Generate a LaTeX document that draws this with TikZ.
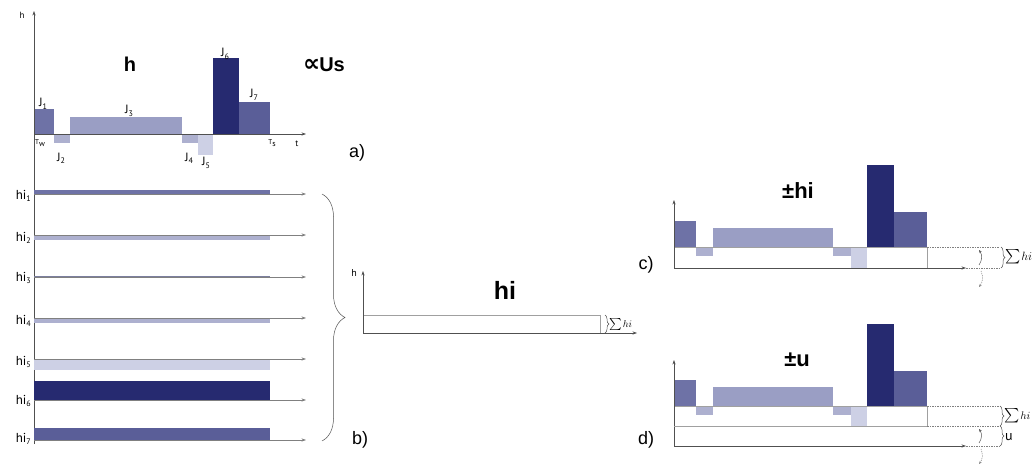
\documentclass[tikz,border=0pt]{standalone}
\usepackage{exscale}
\usepackage{fontspec}
\setmainfont{Liberation Sans}
\newfontfamily\lab{PT Sans}
\newfontfamily\dejavu{DejaVu Sans}
\usetikzlibrary{arrows.meta,decorations.pathreplacing}
\definecolor{cA}{HTML}{6E72A6}
\definecolor{cB}{HTML}{ADB0CF}
\definecolor{cC}{HTML}{9A9EC4}
\definecolor{cD}{HTML}{7C7F9E}
\definecolor{cE}{HTML}{CDD0E5}
\definecolor{cF}{HTML}{262A70}
\definecolor{cG}{HTML}{5A5E98}
\definecolor{axisgray}{HTML}{505050}
\definecolor{guidegray}{HTML}{A0A0A0}
\newcommand\sbs[1]{\raisebox{-0.45ex}{\fontsize{8}{8}\selectfont #1}}
\newcommand\sumhi[2]{{\fontsize{#1}{#1}\selectfont$\textstyle\sum$}\kern1pt{\fontsize{#2}{#2}\selectfont$hi$}}
\begin{document}
\begin{tikzpicture}[x=1pt,y=-1pt,
  axis/.style={draw=axisgray, line width=0.6pt, -{Stealth[length=4.5pt,width=3.2pt]}},
  guide/.style={draw=guidegray, line width=0.6pt},
  dguide/.style={draw=gray, line width=0.5pt, dash pattern=on 1.5pt off 1pt},
  rowline/.style={draw=gray, line width=0.6pt, -{Stealth[length=4.5pt,width=3.2pt]}},
  lbl/.style={font=\lab\fontsize{13}{13}\selectfont, inner sep=0pt},
  jlbl/.style={font=\lab\fontsize{12}{12}\selectfont, inner sep=0pt},
  tiny/.style={font=\lab\fontsize{7}{7}\selectfont, inner sep=0pt},
  big/.style={font=\bfseries\fontsize{22}{22}\selectfont, inner sep=0pt},
  part/.style={font=\fontsize{18}{18}\selectfont, inner sep=0pt},
  sig/.style={inner sep=0pt},
  smallbrace/.style={draw=axisgray, line width=0.5pt, decorate, decoration={brace, amplitude=4pt}},
  curl/.style={draw=axisgray, line width=0.5pt, -{Stealth[length=3pt,width=2.4pt]}},
  dcurl/.style={draw=gray, line width=0.5pt, dash pattern=on 1.2pt off 1pt, -{Stealth[length=3pt,width=2.4pt]}}
]
\useasboundingbox (0,0) rectangle (1035,465);
\fill[white] (0,0) rectangle (1035,465);

% ---------- a) ----------
\fill[cA] (34,109) rectangle (54,134);
\fill[cB] (54,134) rectangle (70,143);
\fill[cC] (70,117) rectangle (182,134);
\fill[cB] (182,134) rectangle (198,143);
\fill[cE] (198,134) rectangle (213,155);
\fill[cF] (213,58) rectangle (239,134);
\fill[cG] (239,102) rectangle (270,134);
\coordinate (O) at (34,134);
\coordinate (ytop) at (34,11);
\coordinate (ybot) at (34,444);
\coordinate (xend) at (306,134);
\draw[axis] (ybot) -- (ytop);
\draw[axis] (O) -- (xend);
\node[tiny, font=\lab\fontsize{9}{9}\selectfont] (hlab) at (22,15) {h};
\node[tiny, font=\lab\fontsize{9}{9}\selectfont] (tlab) at (297,144) {t};
\node[tiny] (tw) at (40,143) {T\sbs{w}};
\node[tiny] (ts) at (272,143) {T\sbs{s}};
\node[jlbl,anchor=base] (j1) at (43,107) {J\sbs{1}};
\node[jlbl,anchor=base] (j2) at (61,161) {J\sbs{2}};
\node[jlbl,anchor=base] (j3) at (129,114) {J\sbs{3}};
\node[jlbl,anchor=base] (j4) at (189,161) {J\sbs{4}};
\node[jlbl,anchor=base] (j5) at (206,166) {J\sbs{5}};
\node[jlbl,anchor=base] (j6) at (225,57) {J\sbs{6}};
\node[jlbl,anchor=base] (j7) at (254,98) {J\sbs{7}};
\node[big, font=\bfseries\fontsize{20}{20}\selectfont, anchor=base] (hbig) at (130,72) {h};
\node[anchor=base, inner sep=0pt] (prop) at (324,72) {{\dejavu\bfseries\fontsize{24}{24}\selectfont ∝}\kern-1pt{\bfseries\fontsize{20}{20}\selectfont Us}};
\node[part] (pa) at (357,153) {a)};

% ---------- b) ----------
\fill[cA] (34,190) rectangle (270,194);
\fill[cB] (34,235) rectangle (270,240);
\fill[cD] (34,275.5) rectangle (270,277.5);
\fill[cB] (34,318) rectangle (270,323);
\fill[cE] (34,359) rectangle (270,370);
\fill[cF] (34,381) rectangle (270,400);
\fill[cG] (34,428) rectangle (270,440);
\foreach \i/\y in {1/194,2/235,3/277,4/318,5/359,6/400,7/440}{
  \coordinate (r\i s) at (34,\y);
  \coordinate (r\i e) at (306,\y);
  \draw[rowline] (r\i s) -- (r\i e);
}
\node[lbl,anchor=base east] (hi1) at (31,199) {hi\sbs{1}};
\node[lbl,anchor=base east] (hi2) at (31,241) {hi\sbs{2}};
\node[lbl,anchor=base east] (hi3) at (31,281) {hi\sbs{3}};
\node[lbl,anchor=base east] (hi4) at (31,324) {hi\sbs{4}};
\node[lbl,anchor=base east] (hi5) at (31,365) {hi\sbs{5}};
\node[lbl,anchor=base east] (hi6) at (31,404) {hi\sbs{6}};
\node[lbl,anchor=base east] (hi7) at (31,442) {hi\sbs{7}};
\coordinate (bt) at (322,194);
\coordinate (bb) at (322,441);
\draw[draw=axisgray, line width=0.5pt, decorate, decoration={brace, amplitude=23pt}] (bt) -- (bb);
\node[part] (pb) at (360,440) {b)};

% ---------- middle ----------
\draw[guide] (363,315) rectangle (600,333);
\coordinate (mO) at (363,333);
\coordinate (mtop) at (363,271);
\coordinate (mend) at (637,333);
\draw[axis] (mO) -- (mtop);
\draw[axis] (mO) -- (mend);
\node[tiny, font=\lab\fontsize{10}{10}\selectfont] (mh) at (354,273) {h};
\node[big, font=\bfseries\fontsize{25}{25}\selectfont, anchor=base] (mhi) at (505,299) {hi};
\draw[smallbrace] (605,315) -- (605,333);
\node[sig, anchor=west] (msig) at (609,324) {\sumhi{13}{10}};

% ---------- c) and d) bar sets ----------
\foreach \z/\b in {247/21, 406/20}{
\begin{scope}[shift={(0,\z)}]
\fill[cA] (674,-26) rectangle (696,0);
\fill[cB] (696,0) rectangle (713,9);
\fill[cC] (713,-19) rectangle (833,0);
\fill[cB] (833,0) rectangle (851,9);
\fill[cE] (851,0) rectangle (867,\b);
\fill[cF] (867,-82) rectangle (894,0);
\fill[cG] (894,-35) rectangle (927,0);
\draw[guide] (674,0) -- (927,0) -- (927,\b);
\end{scope}
}

% ---------- c) ----------
\coordinate (cO) at (674,268);
\coordinate (ctop) at (674,200);
\coordinate (cend) at (966,268);
\draw[axis] (cO) -- (ctop);
\draw[axis] (cO) -- (cend);
\draw[dguide] (927,247) -- (999,247);
\draw[dguide] (966,268) -- (999,268);
\draw[smallbrace] (1001,247) -- (1001,268);
\node[sig, anchor=west] (csig) at (1005,257) {\sumhi{15}{12}};
\draw[curl] (979,265) to[bend right=35] (979,250);
\draw[dcurl] (981,271) to[bend left=30] (979,287);
\node[big, anchor=base] (cpm) at (798,198) {±hi};
\node[part] (pc) at (646,265) {c)};

% ---------- d) ----------
\coordinate (dO) at (674,446);
\coordinate (dtop) at (674,360);
\coordinate (dend) at (966,446);
\draw[axis] (dO) -- (dtop);
\draw[axis] (dO) -- (dend);
\draw[guide] (674,426) -- (927,426);
\draw[dguide] (927,426) -- (999,426);
\draw[dguide] (927,406) -- (999,406);
\draw[dguide] (966,446) -- (999,446);
\draw[smallbrace] (1000,406) -- (1000,426);
\draw[smallbrace] (1000,426) -- (1000,446);
\node[sig, anchor=west] (dsig) at (1004,416) {\sumhi{14}{11}};
\node[lbl, font=\lab\fontsize{14}{14}\selectfont] (du) at (1009,437) {u};
\draw[curl] (979,443) to[bend right=35] (979,429);
\draw[dcurl] (981,449) to[bend left=30] (979,464);
\node[big, anchor=base] (dpm) at (797,366) {±u};
\node[part] (pd) at (646,440) {d)};
\end{tikzpicture}
\end{document}
